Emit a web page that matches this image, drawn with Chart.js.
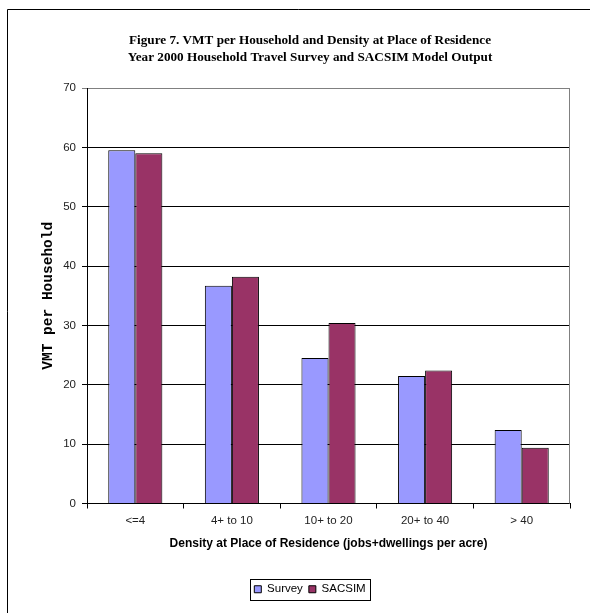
<!DOCTYPE html>
<html>
<head>
<meta charset="utf-8">
<script src="https://cdn.jsdelivr.net/npm/chart.js@4/dist/chart.umd.min.js"></script>
<style>
  body { margin: 0; background: #fff; }
  canvas { display: block; }
</style>
</head>
<body>
<canvas id="chart" width="590" height="613"></canvas>
<script>
var categories = ['<=4', '4+ to 10', '10+ to 20', '20+ to 40', '> 40'];
var surveyValues = [59.5, 36.7, 24.5, 21.5, 12.4];
var sacsimValues = [59.0, 38.2, 30.4, 22.4, 9.4];
var titleLines = [
    'Figure 7. VMT per Household and Density at Place of Residence',
    'Year 2000 Household Travel Survey and SACSIM Model Output'
];

// outer figure frame, right border of plot, box round the legend
var framePlugin = {
    id: 'frame',
    beforeDraw: function(chart) {
        var ctx = chart.ctx;
        ctx.save();
        ctx.fillStyle = '#fff';
        ctx.fillRect(0, 0, chart.width, chart.height);
        ctx.strokeStyle = '#000';
        ctx.lineWidth = 1;
        ctx.beginPath();
        ctx.moveTo(7.5, chart.height);
        ctx.lineTo(7.5, 9.5);
        ctx.lineTo(chart.width, 9.5);
        ctx.stroke();
        ctx.restore();
    },
    afterDraw: function(chart) {
        var ctx = chart.ctx;
        var area = chart.chartArea;
        ctx.save();
        ctx.strokeStyle = '#808080';
        ctx.lineWidth = 1;
        ctx.beginPath();
        ctx.moveTo(Math.round(area.right) - 0.5, area.top);
        ctx.lineTo(Math.round(area.right) - 0.5, area.bottom);
        ctx.stroke();

        var boxes = chart.legend.legendHitBoxes;
        if (boxes && boxes.length) {
            var first = boxes[0];
            var last = boxes[boxes.length - 1];
            var left = Math.round(first.left - 4) + 0.5;
            var right = Math.round(last.left + last.width + 4) + 0.5;
            var top = Math.round(first.top - 5) + 0.5;
            var bottom = Math.round(first.top + first.height + 5) + 0.5;
            ctx.strokeStyle = '#000';
            ctx.strokeRect(left, top, right - left, bottom - top);
        }
        ctx.restore();
    }
};

var ctx = document.getElementById('chart').getContext('2d');
var chart = new Chart(ctx, {
    type: 'bar',
    data: {
        labels: categories,
        datasets: [{
            label: 'Survey',
            data: surveyValues,
            backgroundColor: '#9999FF',
            borderColor: '#000',
            borderWidth: 1
        }, {
            label: 'SACSIM',
            data: sacsimValues,
            backgroundColor: '#993366',
            borderColor: '#000',
            borderWidth: 1
        }]
    },
    options: {
        responsive: false,
        animation: false,
        events: [],
        categoryPercentage: 0.56,
        barPercentage: 1.0,
        layout: { padding: { left: 50, right: 20, top: 0, bottom: 8 } },
        plugins: {
            title: {
                display: true,
                text: titleLines,
                color: '#000',
                font: { family: 'Liberation Serif', size: 13.2, weight: 'bold', lineHeight: 17 / 13.2 },
                padding: { top: 32.5, bottom: 21.5 }
            },
            legend: {
                position: 'bottom',
                labels: {
                    color: '#000',
                    boxWidth: 7,
                    boxHeight: 7,
                    padding: 6,
                    font: { family: 'Liberation Sans', size: 11.5 }
                }
            },
            tooltip: { enabled: false }
        },
        scales: {
            x: {
                afterFit: function(scale) { scale.height = 74; },
                grid: {
                    color: '#000',
                    drawOnChartArea: false,
                    tickLength: 5
                },
                border: { color: '#000' },
                ticks: {
                    color: '#222',
                    padding: 5,
                    font: { family: 'Liberation Sans', size: 11.5 }
                },
                title: {
                    display: true,
                    text: 'Density at Place of Residence (jobs+dwellings per acre)',
                    color: '#000',
                    font: { family: 'Liberation Sans', size: 12, weight: 'bold' },
                    padding: { top: 0, bottom: 26.8 }
                }
            },
            y: {
                min: 0,
                max: 70,
                afterFit: function(scale) { scale.width = 37; },
                grid: {
                    color: function(c) { return c.tick && c.tick.value === 70 ? '#808080' : '#000'; },
                    tickLength: 5
                },
                border: { color: '#000' },
                ticks: {
                    stepSize: 10,
                    color: '#222',
                    padding: 6,
                    font: { family: 'Liberation Sans', size: 11.5 }
                },
                title: {
                    display: true,
                    text: 'VMT per Household',
                    color: '#000',
                    font: { family: 'Liberation Mono', size: 14.5, weight: 'bold' },
                    padding: { top: -10.7, bottom: 0 }
                }
            }
        }
    },
    plugins: [framePlugin]
});
</script>
</body>
</html>
